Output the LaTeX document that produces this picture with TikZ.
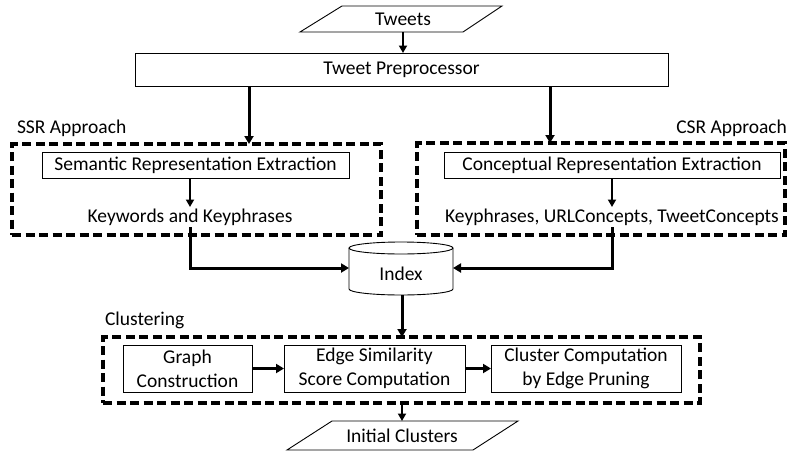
\documentclass[tikz,border=0pt]{standalone}
\usepackage{fontspec}
\setmainfont{Carlito}
\usetikzlibrary{arrows.meta}
\begin{document}
\begin{tikzpicture}[x=1pt,y=-1pt,
  font=\fontsize{19.5}{24}\selectfont,
  box/.style={draw, line width=0.9pt, inner sep=0pt, outer sep=0pt, align=center},
  grp/.style={draw, line width=3.2pt, dash pattern=on 9pt off 4.5pt, inner sep=0pt, outer sep=0pt},
  plain/.style={inner sep=0pt, outer sep=0pt, align=center},
  arr/.style={line width=3pt, -{Triangle[length=8pt,width=9pt]}},
  sarr/.style={line width=2.4pt, -{Triangle[length=7.5pt,width=8pt]}},
  shapeline/.style={line width=0.9pt, line join=miter}
]
\useasboundingbox (0,0) rectangle (790,453);

% Tweets (parallelogram)
\draw[shapeline] (300,32) -- (342,6) -- (502,6) -- (463,32) -- cycle;
\node[plain, minimum width=120pt, minimum height=26pt] (tweets) at (403,19) {Tweets};

% Tweet Preprocessor
\node[box, minimum width=533pt, minimum height=33pt] (pre) at (401.5,69.5) {Tweet Preprocessor};

% group labels
\node[plain, anchor=base west] (ssrlbl) at (17,133) {SSR Approach};
\node[plain, anchor=base east] (csrlbl) at (787,133) {CSR Approach};

% group boxes
\node[grp, minimum width=369pt, minimum height=91pt] (ssr) at (196.5,189.5) {};
\node[grp, minimum width=368pt, minimum height=92pt] (csr) at (601,189) {};

% inner boxes
\node[box, minimum width=307pt, minimum height=26pt] (sem) at (195.5,165) {Semantic Representation Extraction};
\node[box, minimum width=336pt, minimum height=26pt] (con) at (612,165) {Conceptual Representation Extraction};
\node[plain, minimum height=20pt] (kw) at (190,217) {Keywords and Keyphrases};
\node[plain, minimum height=20pt] (kp) at (612,217) {Keyphrases, URLConcepts, TweetConcepts};

% Index cylinder
\node[plain, minimum width=104pt, minimum height=53pt] (index) at (401,268.5) {};
\draw[shapeline, fill=white] (349,248) -- (349,289) arc[start angle=180, end angle=360, x radius=52pt, y radius=6pt] -- (453,248);
\draw[shapeline] (401,248) ellipse [x radius=52pt, y radius=6pt];
\node[plain] (indextxt) at (401,274) {Index};

% Clustering
\node[plain, anchor=base west] (cluslbl) at (105,325) {Clustering};
\node[grp, minimum width=597pt, minimum height=66pt] (clus) at (401.5,370) {};
\node[box, minimum width=129pt, minimum height=47pt] (graph) at (187.5,368.5) {Graph\\Construction};
\node[box, minimum width=181pt, minimum height=47pt] (edge) at (374.5,368.5) {Edge Similarity\\Score Computation};
\node[box, minimum width=190pt, minimum height=47pt] (cc) at (586,368.5) {Cluster Computation\\by Edge Pruning};

% Initial Clusters (parallelogram)
\draw[shapeline] (287,450) -- (332,421) -- (518,421) -- (473,450) -- cycle;
\node[plain, minimum width=140pt, minimum height=29pt] (init) at (402,435.5) {Initial Clusters};

% helper coordinates
\coordinate (xl) at (249,0);
\coordinate (xr) at (550,0);
\coordinate (xm) at (402,0);
\coordinate (ylow) at (0,268);

% connectors
\draw[sarr] (tweets.south) -- (pre.north -| tweets.south);
\draw[arr] (pre.south -| xl) -- (ssr.north -| xl);
\draw[arr] (pre.south -| xr) -- (csr.north -| xr);
\draw[sarr] (sem.south -| kw.north) -- (kw.north);
\draw[sarr] (con.south -| kp.north) -- (kp.north);
\draw[arr] (kw.south) -- (kw.south |- ylow) -- (index.west |- ylow);
\draw[arr] (kp.south) -- (kp.south |- ylow) -- (index.east |- ylow);
\draw[arr] (index.south -| xm) -- (clus.north -| xm);
\draw[arr] (graph.east) -- (edge.west);
\draw[arr] (edge.east) -- (cc.west);
\draw[sarr] (clus.south -| xm) -- (init.north -| xm);
\end{tikzpicture}
\end{document}
